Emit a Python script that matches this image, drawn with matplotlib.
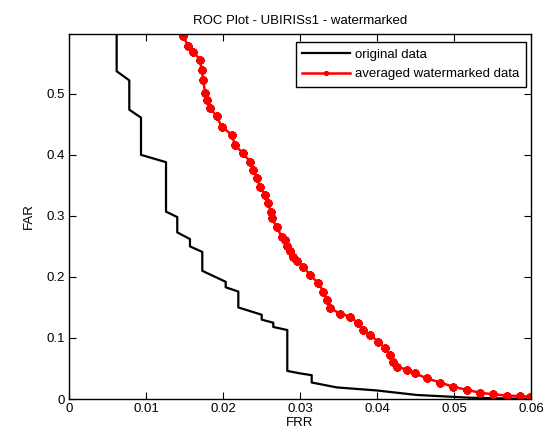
import matplotlib
matplotlib.use("Agg")
import matplotlib.pyplot as plt

plt.rcParams['font.family'] = ['Liberation Sans', 'DejaVu Sans']

orig_frr = [0.00619, 0.00619, 0.00783, 0.00783, 0.00935, 0.00935, 0.01260, 0.01260,
            0.01406, 0.01406, 0.01571, 0.01571, 0.01731, 0.01731, 0.02035, 0.02035,
            0.02199, 0.02199, 0.02503, 0.02503, 0.02653, 0.02653, 0.02835, 0.02835,
            0.03000, 0.03152, 0.03152, 0.03477, 0.03996, 0.04516, 0.05208, 0.06]
orig_far = [0.65, 0.537, 0.522, 0.474, 0.461, 0.400, 0.388, 0.307,
            0.298, 0.273, 0.262, 0.250, 0.241, 0.210, 0.192, 0.183,
            0.176, 0.150, 0.138, 0.130, 0.125, 0.118, 0.113, 0.046,
            0.042, 0.039, 0.027, 0.019, 0.014, 0.0066, 0.0021, 0.0]

wm_frr = [0.01420, 0.01484, 0.01549, 0.01614, 0.01701, 0.01723, 0.01744, 0.01766, 0.01788,
          0.01831, 0.01918, 0.01983, 0.02113, 0.02156, 0.02256, 0.02351, 0.02394,
          0.02438, 0.02481, 0.02545, 0.02588, 0.02619, 0.02632, 0.02697, 0.02762,
          0.02800, 0.02827, 0.02870, 0.02913, 0.02960, 0.03043, 0.03130, 0.03238,
          0.03303, 0.03347, 0.03390, 0.03519, 0.03649, 0.03757, 0.03822, 0.03909,
          0.04017, 0.04104, 0.04169, 0.04212, 0.04256, 0.04386, 0.04494, 0.04645,
          0.04818, 0.04991, 0.05165, 0.05338, 0.05510, 0.05684, 0.05857, 0.05987]
wm_far = [0.62, 0.594, 0.578, 0.569, 0.556, 0.539, 0.523, 0.501, 0.490,
          0.477, 0.463, 0.446, 0.433, 0.416, 0.403, 0.389, 0.375,
          0.362, 0.348, 0.334, 0.321, 0.307, 0.296, 0.282, 0.266,
          0.260, 0.250, 0.242, 0.233, 0.226, 0.217, 0.203, 0.190,
          0.176, 0.162, 0.149, 0.140, 0.135, 0.124, 0.113, 0.105,
          0.094, 0.083, 0.072, 0.061, 0.053, 0.048, 0.042, 0.034,
          0.027, 0.020, 0.015, 0.0103, 0.0077, 0.0054, 0.0049, 0.0038]

xticks = [0, 0.01, 0.02, 0.03, 0.04, 0.05, 0.06]
xticklabels = ['0', '0.01', '0.02', '0.03', '0.04', '0.05', '0.06']
yticks = [0, 0.1, 0.2, 0.3, 0.4, 0.5]
yticklabels = ['0', '0.1', '0.2', '0.3', '0.4', '0.5']

fig = plt.figure(figsize=(5.45, 4.36), dpi=100)
ax = fig.add_axes([69/545, 1-399/436, (531-69)/545, (399-34)/436])

ax.plot(orig_frr, orig_far, color='black', lw=1.6, label='original data')
ax.plot(wm_frr, wm_far, color='red', lw=1.8, marker=(8, 2, 0), markersize=6,
        markeredgewidth=1.8, label='averaged watermarked data')

ax.set_xlim(0, 0.06)
ax.set_ylim(0, 0.598)
ax.set_xticks(xticks)
ax.set_xticklabels(xticklabels)
ax.set_yticks(yticks)
ax.set_yticklabels(yticklabels)
ax.tick_params(direction='in', top=True, right=True, labelsize=9.5, length=5, pad=3)
for s in ax.spines.values():
    s.set_linewidth(1.0)

ax.set_title('ROC Plot - UBIRISs1 - watermarked', fontsize=9.5, pad=7)
ax.set_xlabel('FRR', fontsize=9.5, labelpad=1)
ax.set_ylabel('FAR', fontsize=9.5, labelpad=8)

leg = ax.legend(loc='upper right', bbox_to_anchor=(0.989, 0.978), borderaxespad=0,
                fontsize=9.5, fancybox=False, framealpha=1,
                edgecolor='black', handlelength=3.6,
                handletextpad=0.4, borderpad=0.5, labelspacing=0.55,
                markerscale=0.6)
leg.get_frame().set_linewidth(1.0)

fig.savefig('out.png', dpi=100)
